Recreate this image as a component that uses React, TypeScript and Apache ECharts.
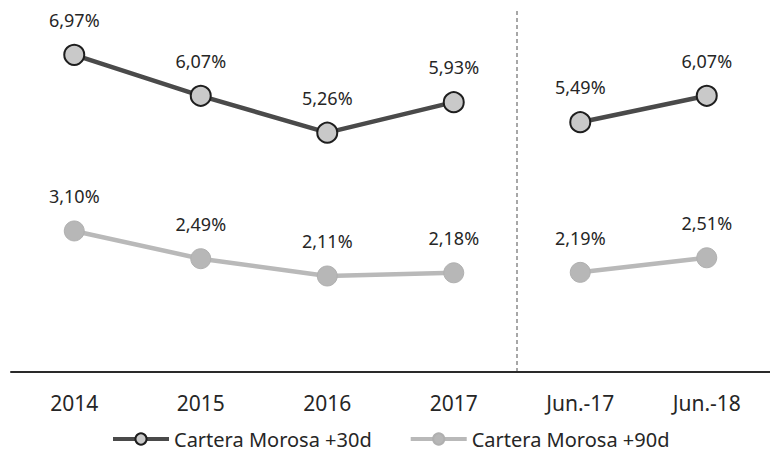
import React, { useEffect, useRef } from "react";
import * as echarts from "echarts";

const categories = ["2014", "2015", "2016", "2017", "Jun.-17", "Jun.-18"];
const seriesNames = ["Cartera Morosa +30d", "Cartera Morosa +90d"];
// annual values (first block) and June values (second block)
const mora30Annual = [6.97, 6.07, 5.26, 5.93, null, null];
const mora30June = [null, null, null, null, 5.49, 6.07];
const mora90Annual = [3.10, 2.49, 2.11, 2.18, null, null];
const mora90June = [null, null, null, null, 2.19, 2.51];
// divider between annual and June blocks (in category units)
const dividerPosition = 3.5;

const FONT = "'Noto Sans', 'Open Sans', sans-serif";

export default function App() {
  const ref = useRef<HTMLDivElement>(null);
  useEffect(() => {
    document.body.style.margin = "0";
    if (!ref.current) return;
    const chart = echarts.init(ref.current, undefined, { renderer: "svg" });
    const fmt = (p: any) => (p.value == null ? "" : p.value.toFixed(2).replace(".", ",") + "%");
    const dark = {
      type: "line" as const,
      name: seriesNames[0],
      symbol: "circle",
      symbolSize: 20,
      lineStyle: { color: "#4a4a4a", width: 4.5 },
      itemStyle: { color: "#c9c9c9", borderColor: "#1e1e1e", borderWidth: 2 },
      label: { show: true, position: "top" as const, distance: 15, formatter: fmt, fontSize: 18, fontFamily: FONT, color: "#262626" },
      connectNulls: false,
      z: 3,
    };
    const light = {
      type: "line" as const,
      name: seriesNames[1],
      symbol: "circle",
      symbolSize: 20,
      lineStyle: { color: "#b9b9b9", width: 4.5 },
      itemStyle: { color: "#b7b7b7", borderColor: "#b0b0b0", borderWidth: 1 },
      label: { show: true, position: "top" as const, distance: 15, formatter: fmt, fontSize: 18, fontFamily: FONT, color: "#262626" },
      connectNulls: false,
      z: 2,
    };
    chart.setOption({
      animation: false,
      grid: { left: 11, right: 0, top: 8, bottom: 82, containLabel: false },
      legend: {
        data: seriesNames,
        left: 106,
        top: 423,
        itemWidth: 56,
        itemHeight: 14,
        itemGap: 37,
        lineStyle: { width: 4 },
        textStyle: { fontSize: 20, fontFamily: FONT, color: "#262626", lineHeight: 22 },
      },
      xAxis: [
        {
          type: "category",
          data: categories,
          boundaryGap: true,
          axisLine: { lineStyle: { color: "#2a2a2a", width: 2 } },
          axisTick: { show: false },
          axisLabel: { fontSize: 21, fontFamily: FONT, color: "#262626", margin: 20 },
          splitLine: { show: false },
          z: 5,
        },
        { type: "value", min: -0.5, max: 5.5, show: false, splitLine: { show: false } },
      ],
      yAxis: { type: "value", min: 0, max: 8, show: false, splitLine: { show: false } },
      series: [
        { ...dark, data: mora30Annual },
        { ...dark, data: mora30June },
        { ...light, data: mora90Annual },
        { ...light, data: mora90June },
        {
          type: "line",
          xAxisIndex: 1,
          data: [],
          silent: true,
          markLine: {
            silent: true,
            symbol: "none",
            label: { show: false },
            lineStyle: { color: "#8a8a8a", type: [4, 3], width: 1.5 },
            data: [{ xAxis: dividerPosition }],
          },
        },
      ],
    });
    return () => chart.dispose();
  }, []);
  return <div ref={ref} style={{ width: 770, height: 454 }} />;
}
